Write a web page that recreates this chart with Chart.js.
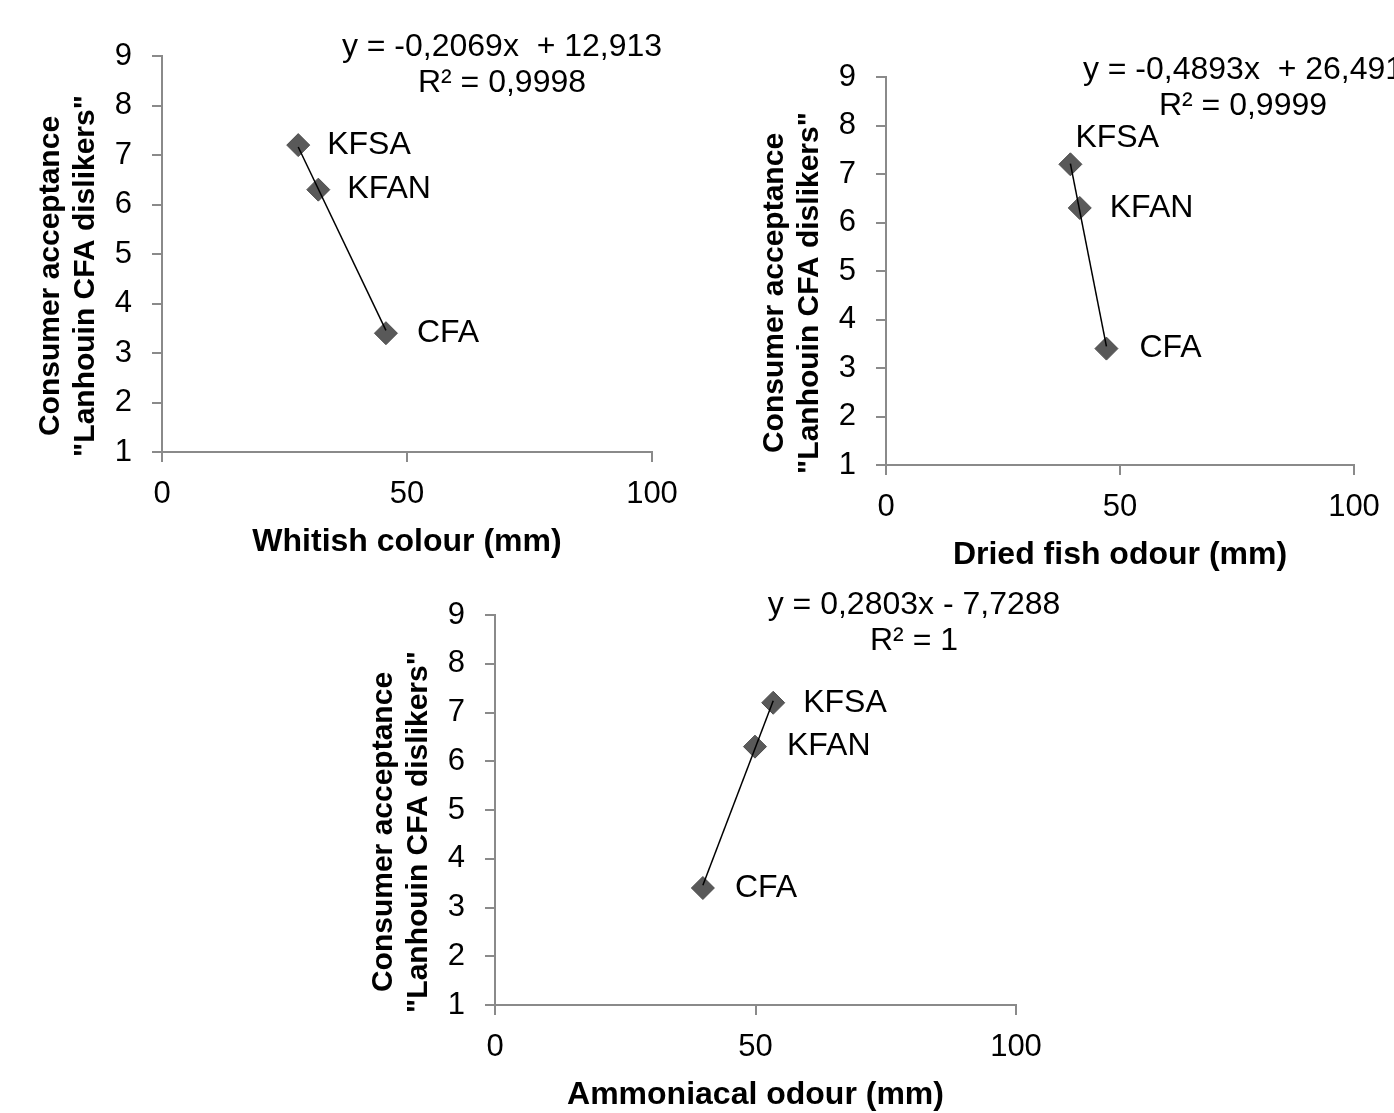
<!DOCTYPE html>
<html>
<head>
<meta charset="utf-8">
<script src="https://cdn.jsdelivr.net/npm/chart.js@4.4.0/dist/chart.umd.min.js"></script>
<style>
body { margin: 0; background: #fff; width: 1394px; height: 1113px; overflow: hidden; position: relative; }
canvas { position: absolute; }
</style>
</head>
<body>
<canvas id="chart1" width="700" height="561" style="left:0;top:0"></canvas>
<canvas id="chart2" width="694" height="574" style="left:700px;top:0"></canvas>
<canvas id="chart3" width="770" height="540" style="left:330px;top:574px"></canvas>
<script>
// Data
const samples = ['KFSA', 'KFAN', 'CFA'];
const acceptance = [7.2, 6.3, 3.4];
const whitishColour = [27.8, 31.9, 45.7];
const driedFishOdour = [39.4, 41.4, 47.1];
const ammoniacalOdour = [53.4, 49.9, 39.9];

const xTitles = ['Whitish colour (mm)', 'Dried fish odour (mm)', 'Ammoniacal odour (mm)'];
const yTitle = ['Consumer acceptance', '"Lanhouin CFA dislikers"'];

// Linear trendlines (as printed on the figure)
const fitSlopes = [-0.2069, -0.4893, 0.2803];
const fitIntercepts = [12.913, 26.491, -7.7288];
const fitEquations = ['y = -0,2069x  + 12,913', 'y = -0,4893x  + 26,491', 'y = 0,2803x - 7,7288'];
const fitR2 = ['R\u00b2 = 0,9998', 'R\u00b2 = 0,9999', 'R\u00b2 = 1'];

const xMin = 0, xMax = 100, xStep = 50;
const yMin = 1, yMax = 9, yStep = 1;

Chart.defaults.font.family = "'Liberation Sans', Arial, sans-serif";
Chart.defaults.color = '#000';

const axisGrey = '#8a8a8a';
const fontNormal = "32px 'Liberation Sans', Arial, sans-serif";
const fontBold = "bold 30px 'Liberation Sans', Arial, sans-serif";

function makeChart(id, xs, idx, box) {
    const lo = Math.min(...xs), hi = Math.max(...xs);
    const trend = [lo, hi].map(x => ({ x: x, y: fitSlopes[idx] * x + fitIntercepts[idx] }));
    const points = xs.map((x, i) => ({ x: x, y: acceptance[i] }));

    // point labels, trendline text and the two-line y title
    const textPlugin = {
        id: 'texts',
        afterDraw(chart) {
            const ctx = chart.ctx;
            const area = chart.chartArea;
            ctx.save();
            ctx.fillStyle = '#000';
            ctx.font = fontNormal;
            ctx.textBaseline = 'middle';
            ctx.textAlign = 'left';
            const meta = chart.getDatasetMeta(1);
            meta.data.forEach((pt, i) => {
                const off = box.labelOffsets[i];
                ctx.fillText(samples[i], pt.x + off[0], pt.y + off[1]);
            });
            ctx.textAlign = 'center';
            ctx.fillText(fitEquations[idx], area.left + box.eq[0], area.top + box.eq[1]);
            ctx.fillText(fitR2[idx], area.left + box.eq[0], area.top + box.eq[1] + 36);

            ctx.font = fontBold;
            const cy = (area.top + area.bottom) / 2 + 22;
            yTitle.forEach((line, i) => {
                ctx.save();
                ctx.translate(area.left - 111 + i * 35, cy);
                ctx.rotate(-Math.PI / 2);
                ctx.fillText(line, 0, 0);
                ctx.restore();
            });
            ctx.restore();
        }
    };

    return new Chart(document.getElementById(id), {
        type: 'scatter',
        data: {
            datasets: [
                {
                    data: trend,
                    showLine: true,
                    borderColor: '#000',
                    borderWidth: 1.5,
                    pointRadius: 0
                },
                {
                    data: points,
                    pointStyle: 'rectRot',
                    pointRadius: 11.5,
                    backgroundColor: '#595959',
                    borderColor: '#4d4d4d',
                    borderWidth: 1
                }
            ]
        },
        options: {
            responsive: false,
            animation: false,
            layout: { padding: { left: 0, top: box.top, right: box.right, bottom: 0 } },
            plugins: {
                legend: { display: false },
                tooltip: { enabled: false }
            },
            scales: {
                x: {
                    type: 'linear',
                    min: xMin,
                    max: xMax,
                    ticks: { stepSize: xStep, padding: 14, font: { size: 31 } },
                    grid: { drawOnChartArea: false, tickLength: 10, color: axisGrey, lineWidth: 2 },
                    border: { color: axisGrey, width: 2 },
                    title: {
                        display: true,
                        text: xTitles[idx],
                        font: { size: 32, weight: 'bold' },
                        padding: 0
                    },
                    afterFit(scale) { scale.height = 109; }
                },
                y: {
                    min: yMin,
                    max: yMax,
                    ticks: { stepSize: yStep, padding: 20, font: { size: 31 } },
                    grid: { drawOnChartArea: false, tickLength: 10, color: axisGrey, lineWidth: 2 },
                    border: { color: axisGrey, width: 2 },
                    afterFit(scale) { scale.width = box.left; }
                }
            }
        },
        plugins: [textPlugin]
    });
}

makeChart('chart1', whitishColour, 0, {
    left: 162, top: 56, right: 48,
    labelOffsets: [[29, 0], [29, 0], [31, 0]],
    eq: [340, -9]
});
makeChart('chart2', driedFishOdour, 1, {
    left: 186, top: 77, right: 40,
    labelOffsets: [[5, -26], [30, 0], [33, 0]],
    eq: [357, -7]
});
makeChart('chart3', ammoniacalOdour, 2, {
    left: 165, top: 41, right: 84,
    labelOffsets: [[30, 0], [32, 0], [32, 0]],
    eq: [419, -10]
});
</script>
</body>
</html>
